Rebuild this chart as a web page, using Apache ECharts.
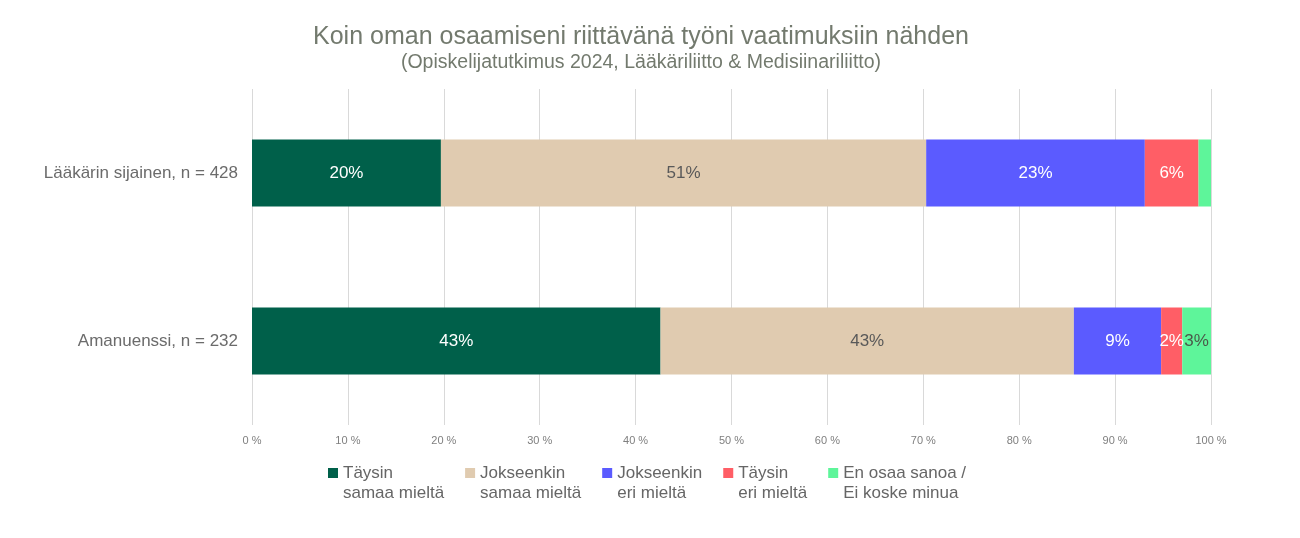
<!DOCTYPE html>
<html><head><meta charset="utf-8">
<script src="https://cdn.jsdelivr.net/npm/echarts@6/dist/echarts.min.js"></script>
<style>html,body{margin:0;padding:0;background:#fff}#c{width:1300px;height:538px}</style>
</head><body><div id="c"></div>
<script>
const categories = ['Lääkärin sijainen, n = 428', 'Amanuenssi, n = 232'];
const seriesNames = ['Täysin\nsamaa mieltä', 'Jokseenkin\nsamaa mieltä', 'Jokseenkin\neri mieltä', 'Täysin\neri mieltä', 'En osaa sanoa /\nEi koske minua'];
const taysinSamaa = [19.7, 42.6];
const jokseenkinSamaa = [50.6, 43.1];
const jokseenkinEri = [22.8, 9.1];
const taysinEri = [5.6, 2.2];
const enOsaa = [1.3, 3.0];
const xTicks = [0, 10, 20, 30, 40, 50, 60, 70, 80, 90, 100];

const values = [taysinSamaa, jokseenkinSamaa, jokseenkinEri, taysinEri, enOsaa];
const colors = ['#00604A', '#E0CBB0', '#5B5BFF', '#FF5E66', '#5EF59A'];
const labelColors = ['#ffffff', '#595959', '#ffffff', '#ffffff', '#4a5a4a'];
const FONT = 'Liberation Sans, Arial, sans-serif';

const chart = echarts.init(document.getElementById('c'));
chart.setOption({
  animation: false,
  title: {
    text: 'Koin oman osaamiseni riittävänä työni vaatimuksiin nähden',
    subtext: '(Opiskelijatutkimus 2024, Lääkäriliitto & Medisiinariliitto)',
    left: 636, textAlign: 'center', top: 20, itemGap: 3,
    textStyle: { fontFamily: FONT, fontSize: 25, fontWeight: 'normal', color: '#737A6E' },
    subtextStyle: { fontFamily: FONT, fontSize: 19.5, color: '#737A6E' }
  },
  legend: {
    top: 438, left: 323,
    itemWidth: 10, itemHeight: 10, itemGap: 21,
    icon: 'rect',
    formatter: name => '\n' + name,
    textStyle: { fontFamily: FONT, fontSize: 17, color: '#666666', lineHeight: 20 },
    data: seriesNames
  },
  grid: { left: 252, right: 89, top: 89, bottom: 113 },
  xAxis: {
    type: 'value', min: 0, max: 100, interval: 10,
    axisLine: { show: false }, axisTick: { show: false },
    splitLine: { lineStyle: { color: '#d9d9d9' } },
    axisLabel: { formatter: v => xTicks.includes(v) ? v + ' %' : '', fontFamily: FONT, fontSize: 11, color: '#7F7F7F', margin: 10 }
  },
  yAxis: {
    type: 'category', data: categories, inverse: true,
    axisLine: { show: false }, axisTick: { show: false },
    axisLabel: { fontFamily: FONT, fontSize: 17, color: '#6B6B6B', margin: 14 }
  },
  series: seriesNames.map((n, i) => ({
    name: n, type: 'bar', stack: 'all', barWidth: '40%',
    data: values[i],
    itemStyle: { color: colors[i] },
    label: {
      show: true, position: 'inside', fontFamily: FONT, fontSize: 17, color: labelColors[i],
      formatter: p => p.value >= 2 ? Math.round(p.value) + '%' : ''
    }
  }))
});
</script></body></html>
